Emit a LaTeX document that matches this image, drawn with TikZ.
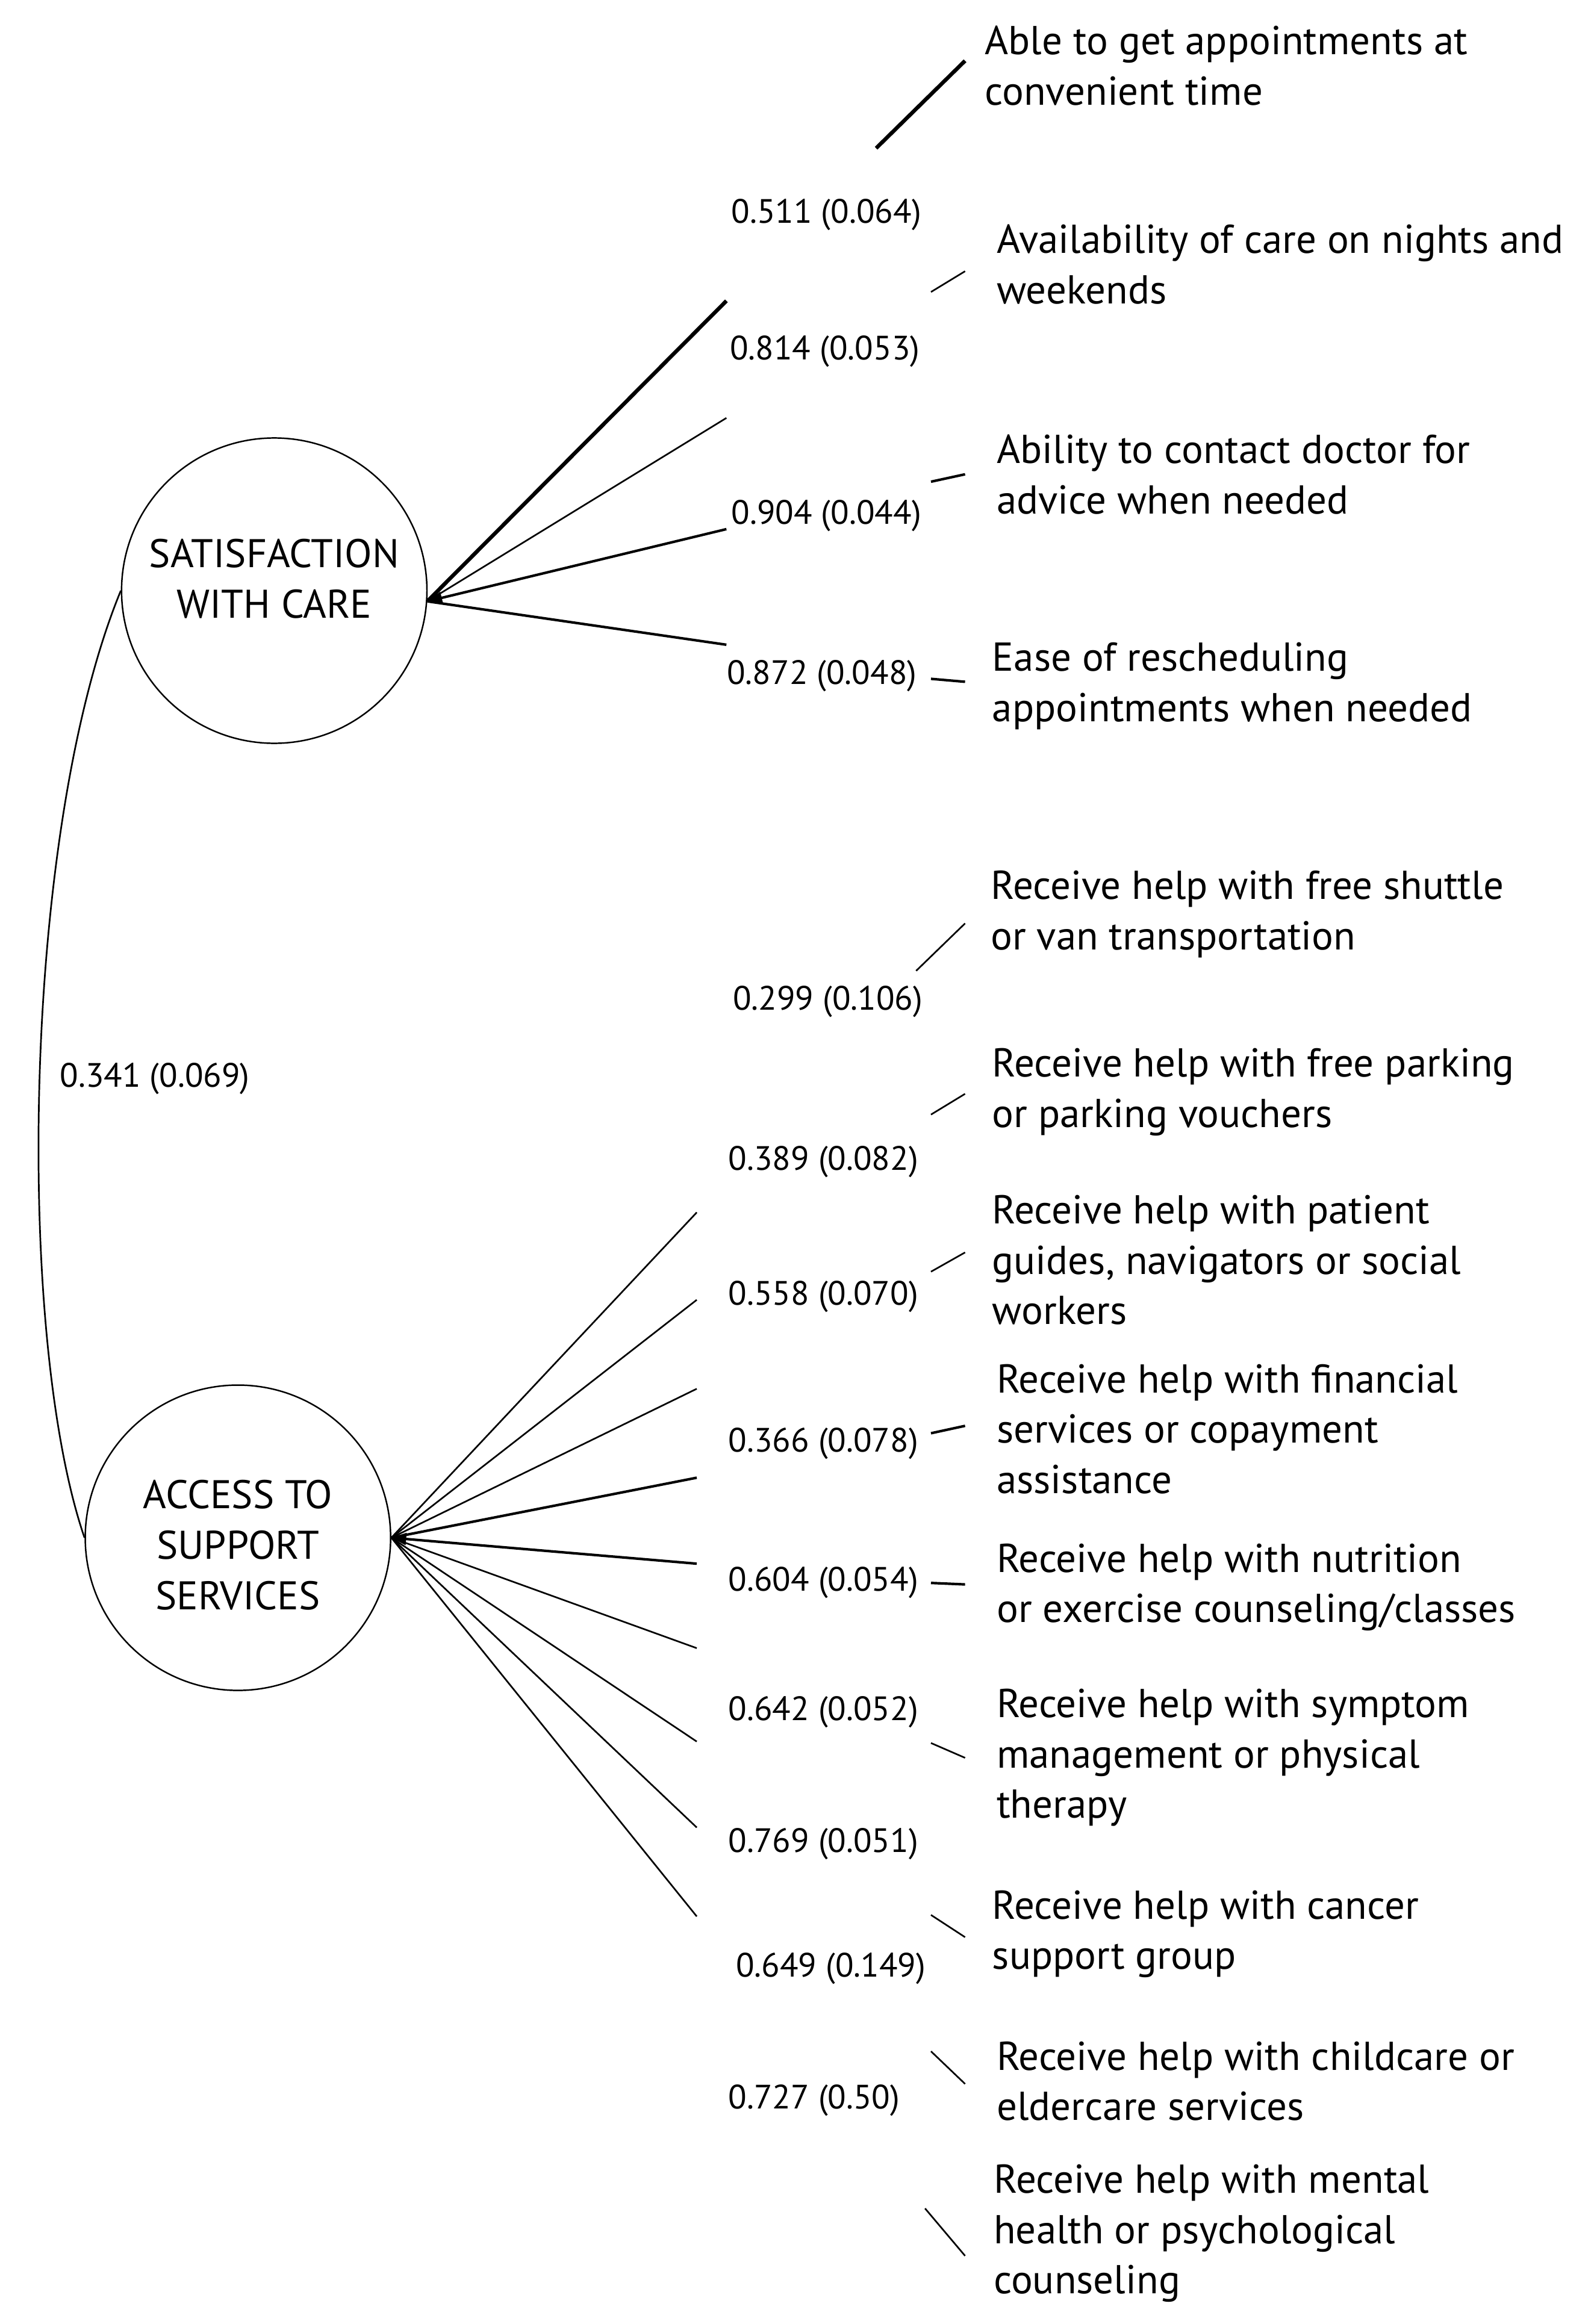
\documentclass[tikz,border=0pt]{standalone}
\usepackage{fontspec}
\setmainfont{PT Sans}
\usetikzlibrary{arrows.meta}
\begin{document}
\begin{tikzpicture}[x=0.5pt,y=-0.5pt,
  latent/.style={circle,draw,line width=0.5pt,minimum size=103pt,inner sep=0pt},
  latentlabel/.style={align=center,inner sep=0pt,font=\fontsize{13.5}{17}\selectfont},
  item/.style={anchor=north west,align=left,inner sep=0pt,font=\fontsize{13.6}{17}\selectfont},
  load/.style={anchor=west,inner sep=0pt,font=\fontsize{11.4}{13}\selectfont},
  thinline/.style={line width=0.55pt},
  midline/.style={line width=0.85pt},
  thickline/.style={line width=1.3pt},
  tip/.style={<-,>={Triangle[length=5pt,width=4pt]}}]
\useasboundingbox (0,0) rectangle (1075,1568);
% latent variables
\node[latent,label={[latentlabel,yshift=4pt]center:SATISFACTION\\WITH CARE}] (sat) at (185,398.5) {};
\node[latent,label={[latentlabel,yshift=-2.5pt]center:ACCESS TO\\SUPPORT\\SERVICES}] (acc) at (160.5,1037.5) {};
% covariance
\draw[thinline] (sat.west) .. controls (15,560) and (10,900) .. (acc.west);
\node[load] (cov) at (40,728) {0.341 (0.069)};
% satisfaction items
\node[item] (i1) at (664,17) {Able to get appointments at\\convenient time};
\node[item] (i2) at (672,151) {Availability of care on nights and\\weekends};
\node[item] (i3) at (672,293) {Ability to contact doctor for\\advice when needed};
\node[item] (i4) at (669,433) {Ease of rescheduling\\appointments when needed};
% access items
\node[item] (j1) at (668,587) {Receive help with free shuttle\\or van transportation};
\node[item] (j2) at (669,707) {Receive help with free parking\\or parking vouchers};
\node[item] (j3) at (669,806) {Receive help with patient\\guides, navigators or social\\workers};
\node[item] (j4) at (672,920) {Receive help with financial\\services or copayment\\assistance};
\node[item] (j5) at (672,1041) {Receive help with nutrition\\or exercise counseling/classes};
\node[item] (j6) at (672,1139) {Receive help with symptom\\management or physical\\therapy};
\node[item] (j7) at (669,1275) {Receive help with cancer\\support group};
\node[item] (j8) at (672,1377) {Receive help with childcare or\\eldercare services};
\node[item] (j9) at (670,1460) {Receive help with mental\\health or psychological\\counseling};
% loading labels
\node[load] (l1) at (493,145) {0.511 (0.064)};
\node[load] (l2) at (492,237) {0.814 (0.053)};
\node[load] (l3) at (493,348) {0.904 (0.044)};
\node[load] (l4) at (490,456) {0.872 (0.048)};
\node[load] (m1) at (494,676) {0.299 (0.106)};
\node[load] (m2) at (491,784) {0.389 (0.082)};
\node[load] (m3) at (491,875) {0.558 (0.070)};
\node[load] (m4) at (491,974) {0.366 (0.078)};
\node[load] (m5) at (491,1068) {0.604 (0.054)};
\node[load] (m6) at (491,1155) {0.642 (0.052)};
\node[load] (m7) at (491,1244) {0.769 (0.051)};
\node[load] (m8) at (496,1328) {0.649 (0.149)};
\node[load] (m9) at (491,1417) {0.727 (0.50)};
% line end coordinates (satisfaction)
\coordinate (s1e) at (490,203);
\coordinate (s2e) at (490,282);
\coordinate (s3e) at (490,357);
\coordinate (s4e) at (490,435);
\coordinate (s1a) at (591,100); \coordinate (s1b) at (651,41);
\coordinate (s2a) at (628,197); \coordinate (s2b) at (651,183);
\coordinate (s3a) at (628,325); \coordinate (s3b) at (651,320);
\coordinate (s4a) at (628,458); \coordinate (s4b) at (651,460);
% line end coordinates (access)
\coordinate (a1e) at (470,818);
\coordinate (a2e) at (470,877);
\coordinate (a3e) at (470,937);
\coordinate (a4e) at (470,997);
\coordinate (a5e) at (470,1055);
\coordinate (a6e) at (470,1112);
\coordinate (a7e) at (470,1175);
\coordinate (a8e) at (470,1233);
\coordinate (a9e) at (470,1293);
\coordinate (a1a) at (618,655); \coordinate (a1b) at (651,623);
\coordinate (a2a) at (628,752); \coordinate (a2b) at (651,738);
\coordinate (a3a) at (628,858); \coordinate (a3b) at (651,845);
\coordinate (a4a) at (628,967); \coordinate (a4b) at (651,962);
\coordinate (a5a) at (628,1068); \coordinate (a5b) at (651,1069);
\coordinate (a6a) at (628,1176); \coordinate (a6b) at (651,1186);
\coordinate (a7a) at (628,1292); \coordinate (a7b) at (651,1307);
\coordinate (a8a) at (628,1384); \coordinate (a8b) at (651,1406);
\coordinate (a9a) at (624,1490); \coordinate (a9b) at (651,1522);
% satisfaction connectors
\draw[thickline] (sat.-4) -- (s1e);
\draw[thinline] (sat.-4) -- (s2e);
\draw[midline,tip] (sat.-4) -- (s3e);
\draw[midline] (sat.-4) -- (s4e);
\draw[thickline] (s1a) -- (s1b);
\draw[thinline] (s2a) -- (s2b);
\draw[midline] (s3a) -- (s3b);
\draw[midline] (s4a) -- (s4b);
% access connectors
\draw[thinline] (acc.east) -- (a1e);
\draw[thinline] (acc.east) -- (a2e);
\draw[thinline] (acc.east) -- (a3e);
\draw[midline] (acc.east) -- (a4e);
\draw[midline,tip] (acc.east) -- (a5e);
\draw[thinline] (acc.east) -- (a6e);
\draw[thinline] (acc.east) -- (a7e);
\draw[thinline] (acc.east) -- (a8e);
\draw[thinline] (acc.east) -- (a9e);
\draw[thinline] (a1a) -- (a1b);
\draw[thinline] (a2a) -- (a2b);
\draw[thinline] (a3a) -- (a3b);
\draw[midline] (a4a) -- (a4b);
\draw[midline] (a5a) -- (a5b);
\draw[thinline] (a6a) -- (a6b);
\draw[thinline] (a7a) -- (a7b);
\draw[thinline] (a8a) -- (a8b);
\draw[thinline] (a9a) -- (a9b);
\end{tikzpicture}
\end{document}
